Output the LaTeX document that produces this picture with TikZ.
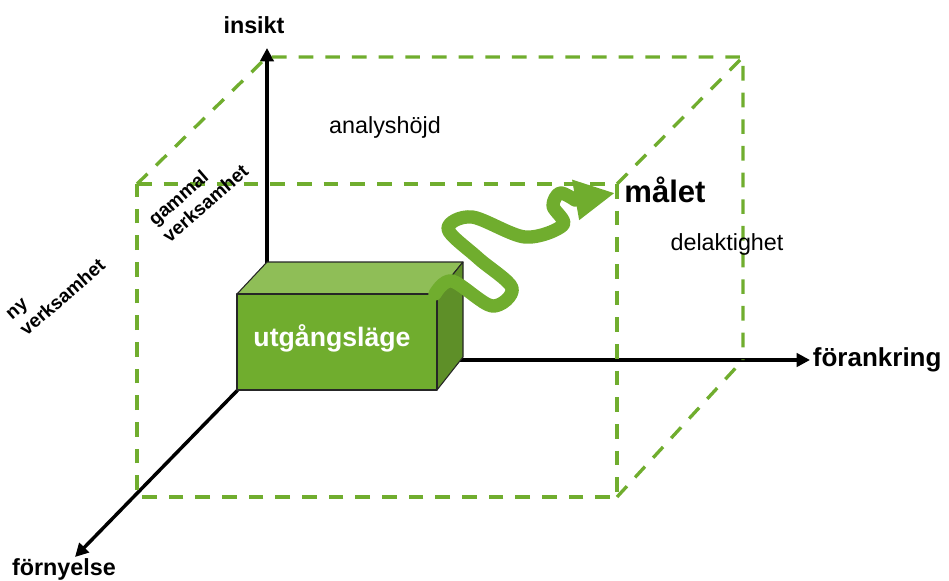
\documentclass[tikz,border=0pt]{standalone}
\usepackage{fontspec}
\setmainfont{Liberation Sans}
\usepackage{tikz}
\usetikzlibrary{positioning}
\usetikzlibrary{arrows.meta}
\definecolor{leaf}{RGB}{112,173,46}
\definecolor{leaflight}{RGB}{143,190,87}
\definecolor{leafdark}{RGB}{94,143,40}
\tikzset{%
  axis/.style     = {line width=2.6pt, -{Triangle[length=10pt,width=10pt]}},
  cubeedge/.style = {draw=leaf, line width=2.5pt, dash pattern=on 11pt off 9pt},
  face/.style     = {draw=black!85, line width=0.8pt, line join=round},
  lbl/.style      = {font=\bfseries\fontsize{17.5}{21}\selectfont, inner sep=0pt},
  plain/.style    = {font=\fontsize{17.5}{21}\selectfont, inner sep=0pt},
  tilted/.style   = {font=\bfseries\fontsize{14.3}{16.5}\selectfont, align=left,
    rotate=41, inner sep=0pt},
  squig/.style    = {draw=leaf, line width=10pt, line cap=round, line join=round,
    -{Triangle[length=30pt,width=28.5pt]}}
}

\begin{document}
\begin{tikzpicture}[x=0.75pt, y=-0.75pt]
  \useasboundingbox (0,0) rectangle (949,581);

  % cube corners, back face on the axes
  \coordinate (o)   at (267,360);
  \coordinate (btl) at (267,57);
  \coordinate (btr) at (743,57);
  \coordinate (bbr) at (743,360);
  \coordinate (ftl) at (137,184);
  \coordinate (ftr) at (617,184);
  \coordinate (fbr) at (617,497);
  \coordinate (fbl) at (137,497);
  \coordinate (insikt-tip)     at (267,48);
  \coordinate (forankring-tip) at (810,360);
  \coordinate (fornyelse-tip)  at (75,557);

  \draw[axis] (o) -- (insikt-tip);
  \draw[axis] (o) -- (forankring-tip);
  \draw[axis] (o) -- (fornyelse-tip);

  \draw[cubeedge] (ftl) -- (ftr) -- (fbr) -- (fbl) -- cycle;
  \draw[cubeedge] (ftl) -- (btl) -- (btr) -- (bbr);
  \draw[cubeedge] (ftr) -- (btr);
  \draw[cubeedge] (fbr) -- (bbr);

  % the box
  \coordinate (b1) at (237,294);
  \coordinate (b2) at (437,294);
  \coordinate (b3) at (437,390);
  \coordinate (b5) at (267,262);
  \coordinate (b6) at (463,262);
  \coordinate (b7) at (463,357);
  \filldraw[face, fill=leaflight] (b1) -- (b5) -- (b6) -- (b2) -- cycle;
  \filldraw[face, fill=leafdark] (b2) -- (b6) -- (b7) -- (b3) -- cycle;
  \filldraw[face, fill=leaf] (b1) rectangle (b3);
  \node at (332,338) [font=\bfseries\fontsize{20}{24}\selectfont, text=white, inner sep=0pt] (start) {utgångsläge};

  \coordinate (sq-start) at (435,294);
  \coordinate (sq-base)  at (575,200);
  \coordinate (sq-end)   at (615,193);
  \draw[squig] plot[smooth, tension=0.55] coordinates {(sq-start) (452,281) (492,306) (512,288)
    (478,258) (448,229) (472,217) (525,237) (563,225) (553,206) (560,193) (sq-base)} -- (sq-end);

  \node at (254,25) [lbl] (insikt) {insikt};
  \node [lbl, font=\bfseries\fontsize{19.5}{23}\selectfont, right=2pt of forankring-tip] (forankring) {förankring};
  \node at (64,569) [lbl] (fornyelse) {förnyelse};
  \node at (385,127) [plain] (analys) {analyshöjd};
  \node at (727,244) [plain] (delakt) {delaktighet};
  \node at (665,190) [lbl, font=\bfseries\fontsize{23.3}{27}\selectfont] (malet) {målet};
  \node at (198,195) [tilted] (gammal) {gammal\\verksamhet};
  \node at (56,290) [tilted] (ny) {ny\\verksamhet};
\end{tikzpicture}
\end{document}
